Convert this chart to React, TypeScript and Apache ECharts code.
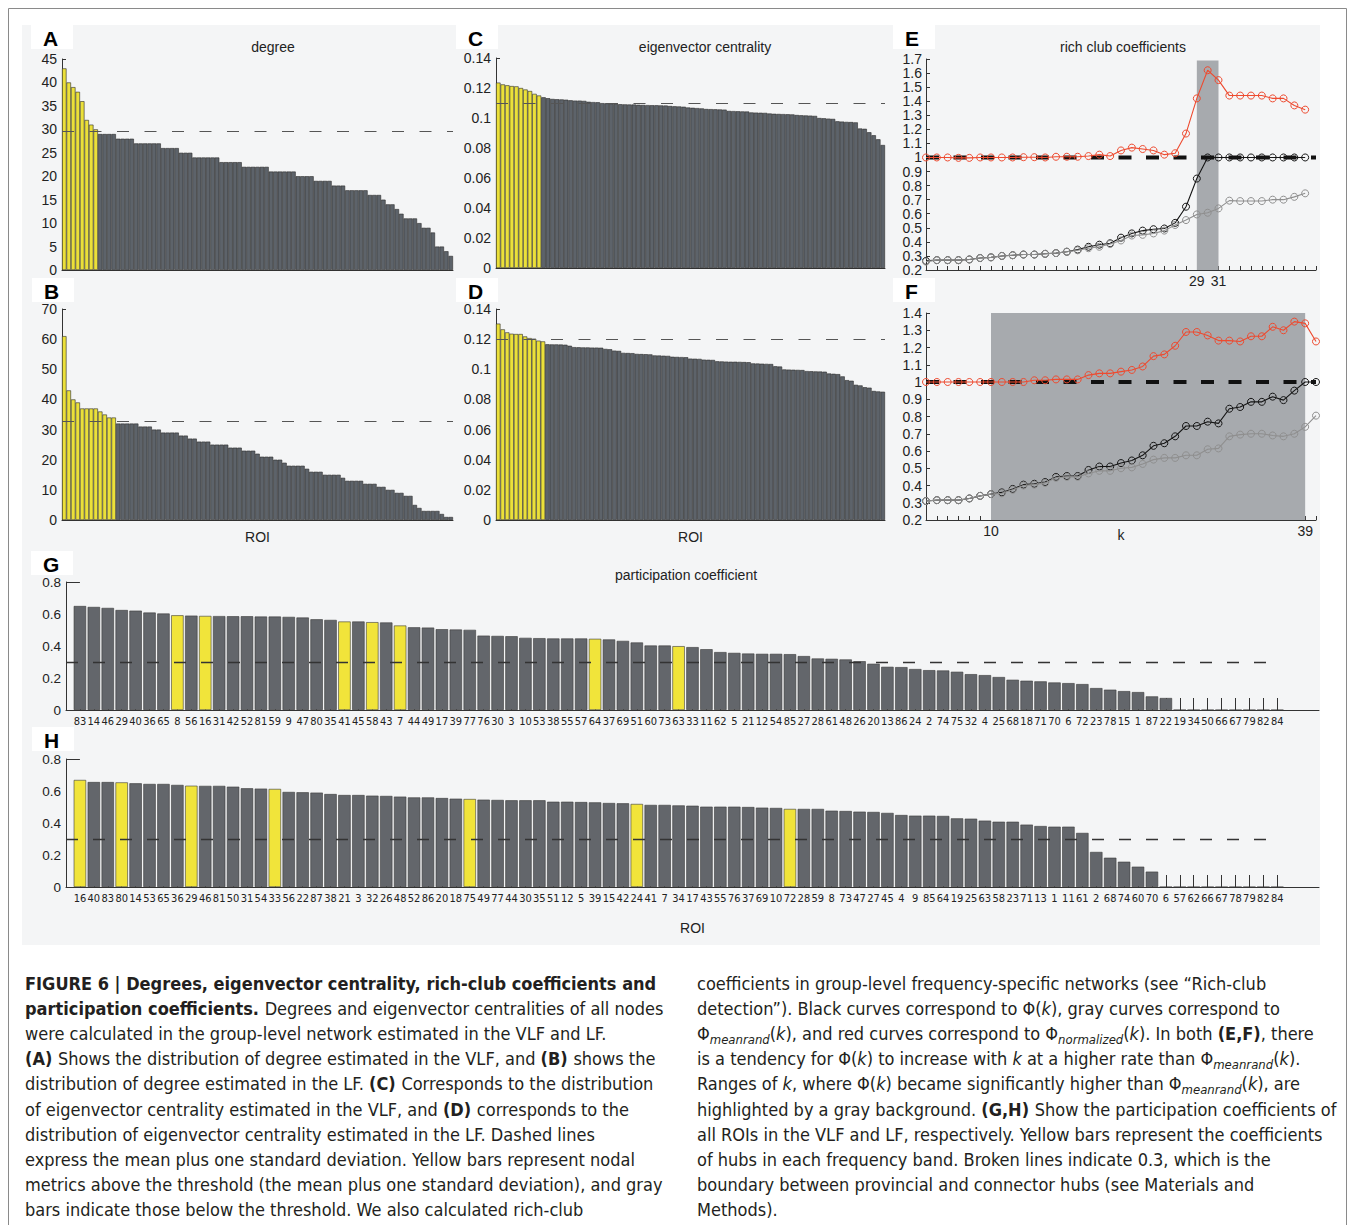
import React, { useEffect, useRef } from 'react';
import * as echarts from 'echarts';

// ---------------- DATA ----------------
// (A) degree, VLF (sorted, 87 ROIs)
const DEGREE_VLF = [43, 40, 39, 38, 36, 32, 31, 30,
  29, 29, 29, 29, 28, 28, 28, 28, 27, 27, 27, 27, 27, 27, 26, 26, 26, 26, 25, 25, 25,
  24, 24, 24, 24, 24, 24, 23, 23, 23, 23, 23, 22, 22, 22, 22, 22, 22, 21, 21, 21, 21, 21, 21,
  20, 20, 20, 20, 19, 19, 19, 19, 18, 18, 18, 17, 17, 17, 17, 17, 16, 16, 16, 15, 14, 14,
  13, 12, 11, 11, 11, 10, 9, 9, 8, 5, 5, 4, 3];
const DEGREE_VLF_THRESHOLD = 29.5;
// (B) degree, LF
const DEGREE_LF = [61, 43, 40, 39, 37, 37, 37, 37, 36, 35, 34, 34,
  32, 32, 32, 32, 32, 31, 31, 31, 30, 30, 29, 29, 29, 29, 28, 28, 27, 27, 26, 26, 26,
  25, 25, 25, 25, 24, 24, 24, 23, 23, 23, 22, 21, 21, 21, 20, 20, 19, 18, 18, 18, 18, 17,
  16, 16, 16, 15, 15, 15, 15, 14, 13, 13, 13, 13, 12, 12, 12, 11, 11, 10, 10, 9, 9, 8, 8,
  5, 4, 3, 3, 3, 3, 2, 1, 1];
const DEGREE_LF_THRESHOLD = 32.8;
// (C) eigenvector centrality, VLF
const EIG_VLF = [0.1236, 0.1224, 0.1218, 0.1213, 0.1211, 0.1200, 0.1190, 0.1180, 0.1161, 0.1150,
  0.1138, 0.1132, 0.1127, 0.1125, 0.1124, 0.1122, 0.1118, 0.1116, 0.1116, 0.1114,
  0.1108, 0.1106, 0.1105, 0.1099, 0.1098, 0.1097, 0.1093, 0.1092, 0.1091, 0.1090, 0.1090,
  0.1088, 0.1087, 0.1086, 0.1085, 0.1085, 0.1084, 0.1083, 0.1080, 0.1078, 0.1077, 0.1075,
  0.1070, 0.1068, 0.1066, 0.1064, 0.1060, 0.1059, 0.1058, 0.1057, 0.1056,
  0.1047, 0.1046, 0.1045, 0.1044, 0.1043, 0.1037, 0.1036, 0.1035, 0.1034,
  0.1030, 0.1028, 0.1027, 0.1026, 0.1025, 0.1024, 0.1020, 0.1018, 0.1017, 0.1016, 0.1014,
  0.1000, 0.0998, 0.0996, 0.0994, 0.0978, 0.0976, 0.0974, 0.0973, 0.0971,
  0.0930, 0.0928, 0.0905, 0.0885, 0.0858, 0.0820];
const EIG_VLF_THRESHOLD = 0.1143;
// (D) eigenvector centrality, LF
const EIG_LF = [0.1303, 0.1265, 0.1245, 0.1236, 0.1234, 0.1234, 0.1218, 0.1207, 0.1203, 0.1190, 0.1185,
  0.1166, 0.1165, 0.1165, 0.1164, 0.1163, 0.1156,
  0.1147, 0.1146, 0.1145, 0.1145, 0.1144, 0.1144, 0.1143, 0.1135, 0.1133, 0.1124, 0.1122,
  0.1109, 0.1108, 0.1107, 0.1102, 0.1101, 0.1100, 0.1099, 0.1092, 0.1091, 0.1090, 0.1089,
  0.1083, 0.1082, 0.1081, 0.1080, 0.1071, 0.1070, 0.1069, 0.1064, 0.1063, 0.1062,
  0.1053, 0.1052, 0.1051, 0.1050, 0.1050, 0.1049, 0.1048, 0.1047,
  0.1039, 0.1038, 0.1037, 0.1036, 0.1035, 0.1020, 0.1018,
  0.0999, 0.0998, 0.0997, 0.0996, 0.0995, 0.0988, 0.0987, 0.0986, 0.0985, 0.0984,
  0.0972, 0.0970, 0.0968, 0.0953, 0.0928, 0.0924, 0.0897, 0.0893, 0.0881, 0.0878,
  0.0856, 0.0853, 0.0851];
const EIG_LF_THRESHOLD = 0.117;

// (E) rich club, VLF
const RC_K_VLF = [4, 5, 6, 7, 8, 9, 10, 11, 12, 13, 14, 15, 16, 17, 18, 19, 20, 21, 22, 23, 24, 25, 26, 27, 28, 29, 30, 31, 32, 33, 34, 35, 36, 37, 38, 39];
const RC_PHI_VLF = [0.265, 0.27, 0.27, 0.27, 0.275, 0.285, 0.29, 0.30, 0.305, 0.31, 0.31, 0.315, 0.32, 0.33, 0.345,
  0.365, 0.38, 0.39, 0.43, 0.46, 0.48, 0.49, 0.495, 0.535, 0.65, 0.85,
  1.0, 1.0, 1.0, 1.0, 1.0, 1.0, 1.0, 1.0, 1.0, 1.0];
const RC_RAND_VLF = [0.26, 0.27, 0.27, 0.27, 0.275, 0.285, 0.29, 0.30, 0.305, 0.31, 0.31, 0.315, 0.32, 0.33, 0.34,
  0.355, 0.365, 0.385, 0.41, 0.445, 0.45, 0.46, 0.48, 0.52, 0.555, 0.595,
  0.607, 0.638, 0.693, 0.69, 0.69, 0.69, 0.70, 0.70, 0.72, 0.745];
const RC_NORM_VLF = [1.0, 1.0, 1.0, 0.997, 0.997, 1.0, 1.0, 1.0, 1.0, 1.002, 1.002, 1.0, 1.005, 1.005, 1.005,
  1.01, 1.02, 1.01, 1.05, 1.07, 1.06, 1.05, 1.02, 1.03, 1.17, 1.42,
  1.62, 1.55, 1.44, 1.44, 1.44, 1.44, 1.42, 1.42, 1.37, 1.34];
const RC_SIG_VLF = [29, 31];
const RC_SIG_TOP_VLF = 1.69;
const RC_YMAX_VLF = 1.7;
const RC_LABELS_VLF = [29, 31];

// (F) rich club, LF
const RC_K_LF = [4, 5, 6, 7, 8, 9, 10, 11, 12, 13, 14, 15, 16, 17, 18, 19, 20, 21, 22, 23, 24, 25, 26, 27, 28, 29, 30, 31, 32, 33, 34, 35, 36, 37, 38, 39, 40];
const RC_PHI_LF = [0.31, 0.315, 0.315, 0.315, 0.325, 0.34, 0.35, 0.36, 0.38,
  0.405, 0.41, 0.42, 0.45, 0.455, 0.455, 0.49, 0.51, 0.51, 0.53,
  0.545, 0.575, 0.63, 0.645, 0.685, 0.745, 0.745, 0.77, 0.76, 0.845,
  0.855, 0.885, 0.885, 0.915, 0.895, 0.95, 1.0, 1.0];
const RC_RAND_LF = [0.31, 0.315, 0.315, 0.315, 0.325, 0.34, 0.35, 0.355, 0.375,
  0.40, 0.405, 0.415, 0.445, 0.45, 0.45, 0.47, 0.485, 0.485, 0.50,
  0.505, 0.525, 0.55, 0.56, 0.56, 0.575, 0.575, 0.61, 0.615, 0.685,
  0.695, 0.70, 0.70, 0.69, 0.685, 0.70, 0.74, 0.805];
const RC_NORM_LF = [1.0, 1.0, 1.0, 1.0, 1.0, 1.0, 1.0, 1.0, 1.0, 1.0,
  1.01, 1.01, 1.015, 1.015, 1.015, 1.04, 1.05, 1.05, 1.06, 1.07,
  1.09, 1.15, 1.16, 1.21, 1.29, 1.29, 1.27, 1.24, 1.24, 1.235,
  1.265, 1.265, 1.32, 1.30, 1.35, 1.34, 1.235];
const RC_SIG_LF = [10, 39];
const RC_SIG_TOP_LF = 1.4;
const RC_YMAX_LF = 1.4;
const RC_LABELS_LF = [10, 39];
const RC_REFERENCE = 1;
const RC_K_MIN = 4;
const RC_K_MAX = 40;

// (G) participation coefficient, VLF
const PC_ROI_VLF = [83, 14, 46, 29, 40, 36, 65, 8, 56, 16, 31, 42, 52, 81, 59, 9, 47, 80, 35, 41,
  45, 58, 43, 7, 44, 49, 17, 39, 77, 76, 30, 3, 10, 53, 38, 55, 57, 64, 37, 69,
  51, 60, 73, 63, 33, 11, 62, 5, 21, 12, 54, 85, 27, 28, 61, 48, 26, 20, 13, 86,
  24, 2, 74, 75, 32, 4, 25, 68, 18, 71, 70, 6, 72, 23, 78, 15, 1, 87, 22, 19,
  34, 50, 66, 67, 79, 82, 84];
const PC_VLF = [0.650, 0.644, 0.638, 0.625, 0.621, 0.609, 0.603, 0.592, 0.590, 0.588,
  0.587, 0.586, 0.586, 0.584, 0.584, 0.582, 0.578, 0.567, 0.563, 0.553,
  0.553, 0.549, 0.547, 0.528, 0.517, 0.515, 0.505, 0.503, 0.501, 0.465,
  0.463, 0.461, 0.451, 0.449, 0.447, 0.447, 0.447, 0.445, 0.441, 0.432,
  0.422, 0.403, 0.403, 0.399, 0.393, 0.380, 0.362, 0.357, 0.353, 0.351,
  0.351, 0.349, 0.337, 0.322, 0.320, 0.316, 0.305, 0.289, 0.270, 0.268,
  0.256, 0.249, 0.247, 0.239, 0.224, 0.218, 0.206, 0.189, 0.183, 0.179,
  0.172, 0.168, 0.162, 0.137, 0.127, 0.118, 0.112, 0.085, 0.075, 0,
  0, 0, 0, 0, 0, 0, 0];
const PC_HUBS_VLF = [8, 16, 41, 58, 7, 64, 63];

// (H) participation coefficient, LF
const PC_ROI_LF = [16, 40, 83, 80, 14, 53, 65, 36, 29, 46, 81, 50, 31, 54, 33, 56, 22, 87, 38, 21,
  3, 32, 26, 48, 52, 86, 20, 18, 75, 49, 77, 44, 30, 35, 51, 12, 5, 39, 15, 42,
  24, 41, 7, 34, 17, 43, 55, 76, 37, 69, 10, 72, 28, 59, 8, 73, 47, 27, 45, 4,
  9, 85, 64, 19, 25, 63, 58, 23, 71, 13, 1, 11, 61, 2, 68, 74, 60, 70, 6, 57,
  62, 66, 67, 78, 79, 82, 84];
const PC_LF = [0.669, 0.656, 0.656, 0.654, 0.648, 0.644, 0.644, 0.638, 0.633, 0.632,
  0.632, 0.627, 0.617, 0.615, 0.613, 0.594, 0.592, 0.590, 0.581, 0.575,
  0.575, 0.571, 0.569, 0.565, 0.560, 0.560, 0.556, 0.552, 0.550, 0.546,
  0.544, 0.542, 0.542, 0.542, 0.533, 0.533, 0.531, 0.529, 0.525, 0.523,
  0.519, 0.513, 0.513, 0.510, 0.508, 0.502, 0.502, 0.502, 0.500, 0.496,
  0.494, 0.488, 0.488, 0.488, 0.477, 0.475, 0.471, 0.469, 0.463, 0.450,
  0.446, 0.446, 0.444, 0.429, 0.427, 0.415, 0.408, 0.408, 0.390, 0.381,
  0.377, 0.377, 0.338, 0.219, 0.183, 0.158, 0.127, 0.096, 0, 0,
  0, 0, 0, 0, 0, 0, 0];
const PC_HUBS_LF = [16, 80, 29, 33, 75, 24, 72];
const PC_BOUNDARY = 0.3;
const PC_AXIS_SLOTS = 90;

// Titles and caption
const PANEL_TITLES = ['degree', 'eigenvector centrality', 'rich club coefficients', 'participation coefficient'];
const PANEL_LETTERS = ['A', 'B', 'C', 'D', 'E', 'F', 'G', 'H'];
const CAPTION_LEFT = [
  '{b|FIGURE 6 | Degrees, eigenvector centrality, rich-club coefficients and}',
  '{b|participation coefficients. }{n|Degrees and eigenvector centralities of all nodes}',
  '{n|were calculated in the group-level network estimated in the VLF and LF.}',
  '{b|(A) }{n|Shows the distribution of degree estimated in the VLF, and }{b|(B) }{n|shows the}',
  '{n|distribution of degree estimated in the LF. }{b|(C) }{n|Corresponds to the distribution}',
  '{n|of eigenvector centrality estimated in the VLF, and }{b|(D) }{n|corresponds to the}',
  '{n|distribution of eigenvector centrality estimated in the LF. Dashed lines}',
  '{n|express the mean plus one standard deviation. Yellow bars represent nodal}',
  '{n|metrics above the threshold (the mean plus one standard deviation), and gray}',
  '{n|bars indicate those below the threshold. We also calculated rich-club}',
];
const CAPTION_RIGHT = [
  '{n|coefficients in group-level frequency-specific networks (see \u201cRich-club}',
  '{n|detection\u201d). Black curves correspond to \u03a6(}{i|k}{n|), gray curves correspond to}',
  '{n|\u03a6}{s|meanrand}{n|(}{i|k}{n|), and red curves correspond to \u03a6}{s|normalized}{n|(}{i|k}{n|). In both }{b|(E,F)}{n|, there}',
  '{n|is a tendency for \u03a6(}{i|k}{n|) to increase with }{i|k }{n|at a higher rate than \u03a6}{s|meanrand}{n|(}{i|k}{n|).}',
  '{n|Ranges of }{i|k}{n|, where \u03a6(}{i|k}{n|) became significantly higher than \u03a6}{s|meanrand}{n|(}{i|k}{n|), are}',
  '{n|highlighted by a gray background. }{b|(G,H) }{n|Show the participation coefficients of}',
  '{n|all ROIs in the VLF and LF, respectively. Yellow bars represent the coefficients}',
  '{n|of hubs in each frequency band. Broken lines indicate 0.3, which is the}',
  '{n|boundary between provincial and connector hubs (see Materials and}',
  '{n|Methods).}',
];

// ---------------- STYLE ----------------
const FONT = "'Liberation Sans', Arial, Helvetica, sans-serif";
const NARROW = "'DejaVu Sans Condensed', 'Liberation Sans Narrow', 'Arial Narrow', sans-serif";
const GRAY_BAR = '#5d636a';
const YELLOW_BAR = '#ebe03a';
const PC_GRAY = '#63666b';
const PC_YELLOW = '#f1e43a';
const AXIS = { color: '#333', width: 1 };
const TICK_LABEL = { color: '#222', fontSize: 14, fontFamily: FONT };
const CAP_COLOR = '#231f20';
const CAP_SIZE = 18;

function buildOption() {
  const grid = [
    { left: 62, top: 59, width: 391, height: 211 },
    { left: 62, top: 309, width: 391, height: 211 },
    { left: 496, top: 58, width: 389, height: 210 },
    { left: 496, top: 309, width: 389, height: 211 },
    { left: 926, top: 59, width: 390, height: 211 },
    { left: 926, top: 313, width: 390, height: 207 },
    { left: 66, top: 582, width: 1253, height: 128 },
    { left: 66, top: 759, width: 1253, height: 128 },
  ];
  const xAxis: any[] = [];
  const yAxis: any[] = [];
  const series: any[] = [];

  const rankPanel = (i: number, values: number[], thr: number, max: number, interval: number, showName: boolean) => {
    xAxis.push({
      gridIndex: i, type: 'category', boundaryGap: true,
      axisLine: { show: true, lineStyle: AXIS }, axisTick: { show: false }, axisLabel: { show: false },
      splitLine: { show: false },
      name: showName ? 'ROI' : '', nameLocation: 'middle', nameGap: 10, nameMoveOverlap: false,
      nameTextStyle: { color: '#222', fontSize: 14, fontFamily: FONT },
    });
    yAxis.push({
      gridIndex: i, type: 'value', min: 0, max, interval,
      axisLine: { show: true, lineStyle: AXIS },
      axisTick: { show: true, inside: true, length: 4, lineStyle: AXIS },
      splitLine: { show: false },
      axisLabel: { ...TICK_LABEL, margin: 5 },
    });
    series.push({
      type: 'bar', xAxisIndex: i, yAxisIndex: i, barCategoryGap: '0%', barWidth: '100%',
      data: values.map((v) => ({ value: v, itemStyle: { color: v > thr ? YELLOW_BAR : GRAY_BAR } })),
      itemStyle: { borderColor: '#2c2c2c', borderWidth: 0.6 },
      markLine: {
        silent: true, symbol: ['none', 'none'], label: { show: false },
        lineStyle: { color: '#555', type: [12, 15.5], width: 1.2 },
        data: [{ yAxis: thr }],
      },
    });
  };

  const richPanel = (i: number, ks: number[], phi: number[], rand: number[], norm: number[],
    sig: number[], sigTop: number, yMax: number, labeled: number[], showName: boolean) => {
    xAxis.push({
      gridIndex: i, type: 'value', min: RC_K_MIN, max: RC_K_MAX, interval: 1,
      axisLine: { show: true, lineStyle: AXIS },
      axisTick: { show: true, inside: true, length: 4, lineStyle: AXIS },
      splitLine: { show: false },
      axisLabel: { ...TICK_LABEL, margin: 4, formatter: (v: number) => (labeled.includes(v) ? String(v) : '') },
      name: showName ? 'k' : '', nameLocation: 'middle', nameGap: 8, nameMoveOverlap: false,
      nameTextStyle: { color: '#222', fontSize: 14, fontFamily: FONT },
    });
    yAxis.push({
      gridIndex: i, type: 'value', min: 0.2, max: yMax, interval: 0.1,
      axisLine: { show: true, lineStyle: AXIS },
      axisTick: { show: true, inside: true, length: 4, lineStyle: AXIS },
      splitLine: { show: false },
      axisLabel: { ...TICK_LABEL, margin: 4 },
    });
    series.push({
      type: 'line', xAxisIndex: i, yAxisIndex: i, z: 2, silent: true,
      data: [[RC_K_MIN, RC_REFERENCE], [RC_K_MAX, RC_REFERENCE]],
      showSymbol: false, symbol: 'none',
      lineStyle: { color: '#111', width: 4, type: [13, 14.5] },
      markArea: {
        silent: true, itemStyle: { color: '#a7aaae' },
        data: [[{ xAxis: sig[0], yAxis: 0.2 }, { xAxis: sig[1], yAxis: sigTop }]],
      },
    });
    const curve = (vals: number[], color: string, z: number) => ({
      type: 'line', xAxisIndex: i, yAxisIndex: i, z,
      data: ks.map((k, j) => [k, vals[j]]),
      symbol: 'circle', symbolSize: 7, showSymbol: true,
      lineStyle: { color, width: 1.1 },
      itemStyle: { color: 'rgba(0,0,0,0)', borderColor: color, borderWidth: 1 },
    });
    series.push(curve(phi, '#151515', 3));
    series.push(curve(rand, '#8f8f8f', 4));
    series.push(curve(norm, '#ee4a2f', 5));
  };

  const pcPanel = (i: number, rois: number[], vals: number[], hubs: number[], showName: boolean) => {
    const cats: string[] = ['pad0'];
    rois.forEach((r) => cats.push(String(r)));
    for (let p = rois.length + 1; p <= PC_AXIS_SLOTS; p++) cats.push('pad' + p);
    xAxis.push({
      gridIndex: i, type: 'category', boundaryGap: false, data: cats,
      axisLine: { show: true, lineStyle: AXIS },
      axisTick: { show: true, inside: true, length: 12, lineStyle: AXIS, interval: (idx: number) => idx >= 1 && idx <= rois.length },
      axisLabel: {
        interval: 0, color: '#222', fontSize: 11, fontFamily: NARROW, margin: 6,
        formatter: (v: string) => (v.startsWith('pad') ? '' : v),
      },
      splitLine: { show: false },
      name: showName ? 'ROI' : '', nameLocation: 'middle', nameGap: 34, nameMoveOverlap: false,
      nameTextStyle: { color: '#222', fontSize: 14, fontFamily: FONT },
    });
    yAxis.push({
      gridIndex: i, type: 'value', min: 0, max: 0.8, interval: 0.2,
      axisLine: { show: true, lineStyle: AXIS },
      axisTick: { show: false },
      splitLine: { show: false },
      axisLabel: { ...TICK_LABEL, fontSize: 13.5, margin: 5 },
    });
    const data: any[] = ['-'];
    vals.forEach((v, j) => data.push({ value: v, itemStyle: { color: hubs.includes(rois[j]) ? PC_YELLOW : PC_GRAY } }));
    for (let p = rois.length + 1; p <= PC_AXIS_SLOTS; p++) data.push('-');
    series.push({
      type: 'bar', xAxisIndex: i, yAxisIndex: i, barWidth: 12.4, data,
      itemStyle: { borderColor: '#3a3a3a', borderWidth: 0.6 },
      markLine: {
        silent: true, symbol: ['none', 'none'], label: { show: false },
        lineStyle: { color: '#333', type: [12, 15], width: 1.4 },
        data: [
          [{ coord: [0, PC_BOUNDARY] }, { coord: [rois.length, PC_BOUNDARY] }],
          [{ coord: [0, 0.8], lineStyle: { type: 'solid', color: '#333', width: 1 } }, { coord: [1, 0.8] }],
        ],
      },
    });
  };

  rankPanel(0, DEGREE_VLF, DEGREE_VLF_THRESHOLD, 45, 5, false);
  rankPanel(1, DEGREE_LF, DEGREE_LF_THRESHOLD, 70, 10, true);
  rankPanel(2, EIG_VLF, EIG_VLF_THRESHOLD, 0.14, 0.02, false);
  rankPanel(3, EIG_LF, EIG_LF_THRESHOLD, 0.14, 0.02, true);
  richPanel(4, RC_K_VLF, RC_PHI_VLF, RC_RAND_VLF, RC_NORM_VLF, RC_SIG_VLF, RC_SIG_TOP_VLF, RC_YMAX_VLF, RC_LABELS_VLF, false);
  richPanel(5, RC_K_LF, RC_PHI_LF, RC_RAND_LF, RC_NORM_LF, RC_SIG_LF, RC_SIG_TOP_LF, RC_YMAX_LF, RC_LABELS_LF, true);
  pcPanel(6, PC_ROI_VLF, PC_VLF, PC_HUBS_VLF, false);
  pcPanel(7, PC_ROI_LF, PC_LF, PC_HUBS_LF, true);

  const graphic: any[] = [
    { type: 'rect', z: -200, silent: true, shape: { x: 8.5, y: 8.5, width: 1338, height: 1240 }, style: { fill: '#ffffff', stroke: '#8a8a8a', lineWidth: 1 } },
    { type: 'rect', z: -150, silent: true, shape: { x: 22, y: 25, width: 1298, height: 920 }, style: { fill: '#f4f5f6' } },
  ];
  const letterPos = [[43, 38], [44, 291], [468, 38], [468, 291], [905, 38], [905, 291], [43, 564], [44, 740]];
  letterPos.forEach(([x, y], j) => {
    graphic.push({ type: 'rect', z: -100, silent: true, shape: { x: x - 12, y: y - 13, width: 42, height: 24 }, style: { fill: '#ffffff' } });
    graphic.push({
      type: 'text', x, y, z: 10, silent: true,
      style: { text: PANEL_LETTERS[j], fill: '#000', fontSize: 21, fontWeight: 'bold', fontFamily: FONT, verticalAlign: 'middle', textVerticalAlign: 'middle' },
    });
  });
  const titlePos = [[273, 47], [705, 47], [1123, 47], [686, 575]];
  titlePos.forEach(([x, y], j) => {
    graphic.push({
      type: 'text', x, y, z: 10, silent: true,
      style: { text: PANEL_TITLES[j], fill: '#222', fontSize: 14, fontFamily: FONT, align: 'center', textAlign: 'center', verticalAlign: 'middle', textVerticalAlign: 'middle' },
    });
  });
  const rich = {
    n: { fontFamily: NARROW, fontSize: CAP_SIZE, lineHeight: 25, fill: CAP_COLOR },
    b: { fontFamily: NARROW, fontSize: CAP_SIZE, fontWeight: 'bold', lineHeight: 25, fill: CAP_COLOR },
    i: { fontFamily: NARROW, fontSize: CAP_SIZE, fontStyle: 'italic', lineHeight: 25, fill: CAP_COLOR },
    s: { fontFamily: NARROW, fontSize: 13, fontStyle: 'italic', lineHeight: 13, verticalAlign: 'bottom', fill: CAP_COLOR },
  };
  const addCaption = (lines: string[], x: number) => {
    lines.forEach((t, j) => {
      graphic.push({
        type: 'text', x, y: 983 + j * 25.2, z: 10, silent: true,
        style: { text: t, rich, fontFamily: NARROW, fontSize: CAP_SIZE, fill: CAP_COLOR, verticalAlign: 'middle', textVerticalAlign: 'middle' },
      });
    });
  };
  addCaption(CAPTION_LEFT, 25);
  addCaption(CAPTION_RIGHT, 697);

  return { animation: false, backgroundColor: '#ffffff', grid, xAxis, yAxis, series, graphic };
}

export default function App() {
  const ref = useRef<HTMLDivElement>(null);
  useEffect(() => {
    document.body.style.margin = '0';
    const chart = echarts.init(ref.current as HTMLDivElement, undefined, { renderer: 'svg', width: 1355, height: 1225 });
    chart.setOption(buildOption() as any);
    return () => chart.dispose();
  }, []);
  return <div ref={ref} style={{ width: 1355, height: 1225 }} />;
}
